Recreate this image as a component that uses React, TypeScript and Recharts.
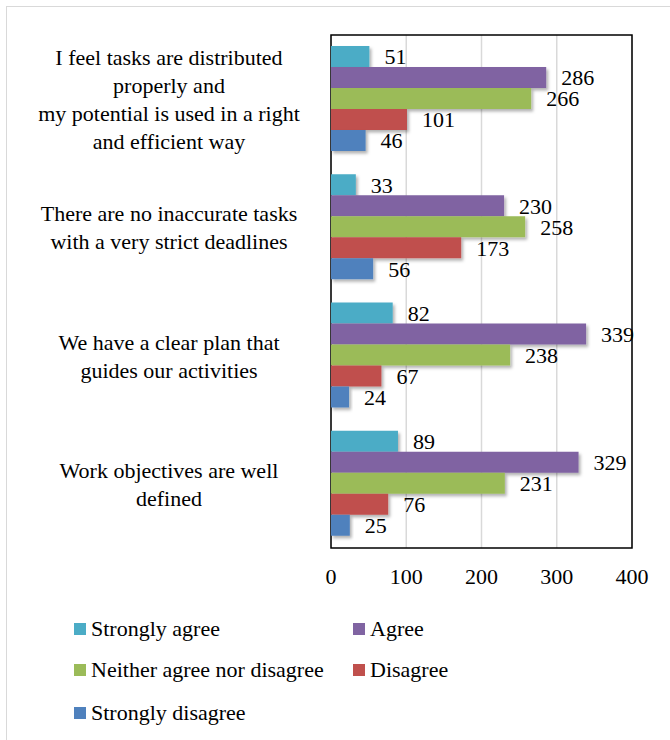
import React from 'react';
import { BarChart, Bar, XAxis, YAxis, CartesianGrid, LabelList, Legend, ReferenceArea } from 'recharts';

const FONT = "'Times New Roman', Times, Tinos, 'Liberation Serif', 'DejaVu Serif', 'Noto Serif', serif";

const categories = [
    'I feel tasks are distributed\nproperly and\nmy potential is used in a right\nand efficient way',
    'There are no inaccurate tasks\nwith a very strict deadlines',
    'We have a clear plan that\nguides our activities',
    'Work objectives are well\ndefined',
];

const stronglyAgree = [51, 33, 82, 89];
const agree = [286, 230, 339, 329];
const neither = [266, 258, 238, 231];
const disagree = [101, 173, 67, 76];
const stronglyDisagree = [46, 56, 24, 25];

const xTicks = [0, 100, 200, 300, 400];

const series = [
    { key: 'sa', name: 'Strongly agree', values: stronglyAgree, color: '#4BACC6' },
    { key: 'a', name: 'Agree', values: agree, color: '#8064A2' },
    { key: 'n', name: 'Neither agree nor disagree', values: neither, color: '#9BBB59' },
    { key: 'd', name: 'Disagree', values: disagree, color: '#C0504D' },
    { key: 'sd', name: 'Strongly disagree', values: stronglyDisagree, color: '#4F81BD' },
];

const data = categories.map((cat, i) => {
    const row: Record<string, string | number> = { name: cat };
    series.forEach((s) => {
        row[s.key] = s.values[i];
    });
    return row;
});

function CategoryTick({ y = 0, payload }: { x?: number; y?: number; payload?: { value: string } }) {
    const lines = String(payload?.value ?? '').split('\n');
    const lineHeight = 28;
    const startY = y - ((lines.length - 1) * lineHeight) / 2;
    return (
        <text
            x={169}
            y={startY}
            textAnchor="middle"
            dominantBaseline="central"
            fontFamily={FONT}
            fontSize={22}
            fill="#000"
        >
            {lines.map((line, i) => (
                <tspan key={i} x={169} y={startY + i * lineHeight} dominantBaseline="central">
                    {line}
                </tspan>
            ))}
        </text>
    );
}

function LegendContent() {
    const pos = [
        { left: 74, top: 28 },
        { left: 353, top: 28 },
        { left: 74, top: 69 },
        { left: 353, top: 69 },
        { left: 74, top: 112 },
    ];
    return (
        <div style={{ position: 'relative', width: 632, height: 130, fontFamily: FONT, fontSize: 22 }}>
            {series.map((s, i) => (
                <div
                    key={s.key}
                    style={{
                        position: 'absolute',
                        left: pos[i].left,
                        top: pos[i].top,
                        display: 'flex',
                        alignItems: 'center',
                        whiteSpace: 'nowrap',
                        lineHeight: '26px',
                    }}
                >
                    <span style={{ width: 12, height: 12, background: s.color, display: 'inline-block', marginRight: 5 }} />
                    <span>{s.name}</span>
                </div>
            ))}
        </div>
    );
}

export default function App() {
    return (
        <div style={{ position: 'absolute', left: 0, top: 0, width: 670, height: 740, background: '#fff', fontFamily: FONT }}>
            <div
                style={{
                    position: 'absolute',
                    left: 6,
                    top: 6,
                    width: 670,
                    height: 740,
                    borderLeft: '1.5px solid #d9d9d9',
                    borderTop: '1.5px solid #d9d9d9',
                }}
            />
            <BarChart
                width={670}
                height={740}
                data={data}
                layout="vertical"
                margin={{ top: 35, right: 38, bottom: 22, left: 0 }}
                barCategoryGap={11}
                barGap={0}
                style={{ fontFamily: FONT }}
            >
                <defs>
                    <filter id="barShadow" x="-10%" y="-20%" width="130%" height="160%">
                        <feDropShadow dx="2" dy="2.5" stdDeviation="1.5" floodColor="#000" floodOpacity="0.3" />
                    </filter>
                </defs>
                <CartesianGrid horizontal={false} stroke="#d9d9d9" strokeWidth={1.5} />
                <XAxis
                    type="number"
                    domain={[0, 400]}
                    ticks={xTicks}
                    axisLine={false}
                    tickLine={false}
                    tickSize={0}
                    tickMargin={20}
                    height={40}
                    interval={0}
                    tick={{ fontFamily: FONT, fontSize: 22, fill: '#000' }}
                />
                <YAxis
                    type="category"
                    dataKey="name"
                    width={331}
                    axisLine={false}
                    tickLine={false}
                    interval={0}
                    tick={<CategoryTick />}
                />
                {series.map((s) => (
                    <Bar
                        key={s.key}
                        dataKey={s.key}
                        name={s.name}
                        fill={s.color}
                        isAnimationActive={false}
                        style={{ filter: 'url(#barShadow)' }}
                    >
                        <LabelList
                            dataKey={s.key}
                            position="right"
                            offset={15}
                            fontFamily={FONT}
                            fontSize={22}
                            fill="#000"
                        />
                    </Bar>
                ))}
                <ReferenceArea x1={0} x2={400} fill="none" stroke="#000" strokeWidth={1.5} ifOverflow="visible" />
                <Legend verticalAlign="bottom" content={<LegendContent />} />
            </BarChart>
        </div>
    );
}
